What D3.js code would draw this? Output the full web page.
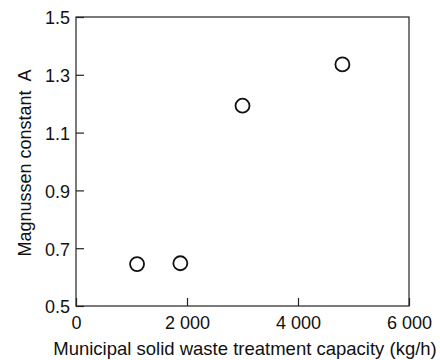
<!DOCTYPE html>
<html>
<head>
<meta charset="utf-8">
<script src="https://cdn.jsdelivr.net/npm/d3@7"></script>
<style>
  body { margin: 0; background: #fff; }
  svg { display: block; font-family: "Liberation Sans", Arial, sans-serif; }
</style>
</head>
<body>
<svg id="chart" width="440" height="360"></svg>
<script>
// capacity (kg/h) vs Magnussen constant A
var capacity = [1100, 1880, 3000, 4800];
var magA = [0.645, 0.648, 1.193, 1.336];
var xTicks = [0, 2000, 4000, 6000];
var yTicks = [0.5, 0.7, 0.9, 1.1, 1.3, 1.5];

var svg = d3.select("#chart");
var m = {left: 76, right: 31, top: 17, bottom: 54};
var W = 440 - m.left - m.right, H = 360 - m.top - m.bottom;

var x = d3.scaleLinear().domain([0, 6000]).range([0, W]);
var y = d3.scaleLinear().domain([0.5, 1.5]).range([H, 0]);

// "2 000" style grouping
var loc = d3.formatLocale({decimal: ".", thousands: " ", grouping: [3], currency: ["", ""]});
var fmtX = loc.format(",");

var g = svg.append("g").attr("transform", "translate(" + m.left + "," + m.top + ")");

// frame
g.append("rect")
  .attr("width", W).attr("height", H)
  .attr("fill", "none").attr("stroke", "#222").attr("stroke-width", 1.2);

var xAx = g.append("g")
  .attr("transform", "translate(0," + H + ")")
  .call(d3.axisBottom(x).tickValues(xTicks).tickFormat(fmtX).tickSizeInner(-8).tickSizeOuter(0).tickPadding(10));
var yAx = g.append("g")
  .call(d3.axisLeft(y).tickValues(yTicks).tickFormat(d3.format(".1f")).tickSizeInner(-8).tickSizeOuter(0).tickPadding(6));

[xAx, yAx].forEach(function(a){
  a.select(".domain").remove();
  a.selectAll("line").attr("stroke", "#222").attr("stroke-width", 1.2);
  a.selectAll("text").attr("fill", "#111").style("font-size", "18px")
    .style("font-family", "'Liberation Sans', Arial, sans-serif");
});
yAx.selectAll("text").attr("dy", "0.38em");

// points
g.selectAll("circle.pt")
  .data(capacity)
  .enter().append("circle")
  .attr("class", "pt")
  .attr("cx", function(d){ return x(d); })
  .attr("cy", function(d, i){ return y(magA[i]); })
  .attr("r", 7)
  .attr("fill", "#fff")
  .attr("stroke", "#111")
  .attr("stroke-width", 1.8);

// axis titles
svg.append("text")
  .attr("x", 245).attr("y", 355)
  .attr("text-anchor", "middle")
  .style("font-size", "18.5px").attr("fill", "#111")
  .text("Municipal solid waste treatment capacity (kg/h)");

svg.append("text")
  .attr("transform", "translate(31,163) rotate(-90)")
  .attr("text-anchor", "middle")
  .style("font-size", "18px").attr("fill", "#111")
  .style("white-space", "pre")
  .text("Magnussen constant  A");
</script>
</body>
</html>
